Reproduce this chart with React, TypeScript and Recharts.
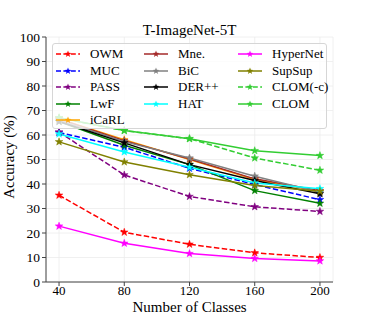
import { LineChart, Line, XAxis, YAxis, CartesianGrid } from 'recharts';

document.body.style.margin = '0';

const classes = [40, 80, 120, 160, 200];

const owm = [35.4, 20.3, 15.4, 11.9, 10.0];
const muc = [61.0, 55.0, 46.4, 39.8, 33.6];
const pass = [61.2, 43.7, 34.9, 30.7, 28.8];
const lwf = [65.5, 55.8, 47.9, 37.3, 32.1];
const icarl = [66.5, 58.1, 50.0, 41.8, 36.9];
const mne = [66.5, 57.7, 50.2, 42.1, 37.3];
const bic = [66.0, 57.3, 50.6, 43.2, 36.6];
const derpp = [65.5, 56.8, 47.9, 41.4, 36.0];
const hat = [60.4, 53.1, 46.8, 40.4, 38.1];
const hypernet = [22.8, 15.8, 11.6, 9.6, 8.6];
const supsup = [57.2, 49.0, 43.8, 39.4, 37.0];
const clomNoC = [67.0, 61.8, 58.5, 50.6, 45.6];
const clom = [67.0, 61.8, 58.5, 53.6, 51.6];

const series = [
  { key: 'owm', name: 'OWM', values: owm, color: '#ff0000', dashed: true },
  { key: 'muc', name: 'MUC', values: muc, color: '#0000ff', dashed: true },
  { key: 'pass', name: 'PASS', values: pass, color: '#800080', dashed: true },
  { key: 'lwf', name: 'LwF', values: lwf, color: '#008000', dashed: false },
  { key: 'icarl', name: 'iCaRL', values: icarl, color: '#ffa500', dashed: false },
  { key: 'mne', name: 'Mne.', values: mne, color: '#a52a2a', dashed: false },
  { key: 'bic', name: 'BiC', values: bic, color: '#808080', dashed: false },
  { key: 'derpp', name: 'DER++', values: derpp, color: '#000000', dashed: false },
  { key: 'hat', name: 'HAT', values: hat, color: '#00ffff', dashed: false },
  { key: 'hypernet', name: 'HyperNet', values: hypernet, color: '#ff00ff', dashed: false },
  { key: 'supsup', name: 'SupSup', values: supsup, color: '#808000', dashed: false },
  { key: 'clomc', name: 'CLOM(-c)', values: clomNoC, color: '#32cd32', dashed: true },
  { key: 'clom', name: 'CLOM', values: clom, color: '#32cd32', dashed: false },
];

const data = classes.map((c, i) => {
  const row: Record<string, number> = { classes: c };
  series.forEach((s) => {
    row[s.key] = s.values[i];
  });
  return row;
});

const FONT = "'Liberation Serif', 'Times New Roman', Times, serif";

function starPath(cx: number, cy: number, r: number) {
  const pts: string[] = [];
  for (let i = 0; i < 10; i++) {
    const rad = i % 2 === 0 ? r : r * 0.4;
    const a = -Math.PI / 2 + (i * Math.PI) / 5;
    pts.push(`${(cx + rad * Math.cos(a)).toFixed(2)},${(cy + rad * Math.sin(a)).toFixed(2)}`);
  }
  return `M${pts.join('L')}Z`;
}

const StarDot = (color: string) => (props: any) => {
  const { cx, cy, index } = props;
  if (cx == null || cy == null) return <g key={index} />;
  return <path key={index} d={starPath(cx, cy, 4)} fill={color} stroke={color} strokeWidth={0.5} />;
};

function LegendItem({ s }: { s: (typeof series)[number] }) {
  return (
    <div style={{ display: 'flex', alignItems: 'center', height: 16.5, whiteSpace: 'nowrap' }}>
      <svg width={26} height={10} style={{ marginRight: 9, flexShrink: 0 }}>
        <line
          x1={1}
          y1={5}
          x2={25}
          y2={5}
          stroke={s.color}
          strokeWidth={1.5}
          strokeDasharray={s.dashed ? '5 2.4' : undefined}
        />
        <path d={starPath(13, 5, 3.6)} fill={s.color} />
      </svg>
      <span>{s.name}</span>
    </div>
  );
}

export default function App() {
  const cols = [series.slice(0, 5), series.slice(5, 9), series.slice(9)];
  const colWidths = [88, 94, 88];
  return (
    <div style={{ position: 'relative', width: 371, height: 318, background: '#fff' }}>
      <LineChart width={371} height={318} data={data} margin={{ top: 37, right: 38, left: 0, bottom: 0 }}>
        <CartesianGrid stroke="#ececec" strokeWidth={0.8} />
        <XAxis
          dataKey="classes"
          type="number"
          domain={[32, 208]}
          ticks={classes}
          height={36}
          stroke="#444"
          tickSize={4}
          tickMargin={0}
          tick={{ fill: '#000', fontSize: 13, fontFamily: FONT }}
        />
        <XAxis xAxisId="top" orientation="top" dataKey="classes" type="number" domain={[32, 208]} height={0} tick={false} tickLine={false} stroke="#444" />
        <YAxis
          type="number"
          domain={[0, 100]}
          ticks={[0, 10, 20, 30, 40, 50, 60, 70, 80, 90, 100]}
          width={46}
          stroke="#444"
          tickSize={4}
          interval={0}
          tick={{ fill: '#000', fontSize: 13.5, fontFamily: FONT }}
        />
        <YAxis yAxisId="right" orientation="right" domain={[0, 100]} width={0} tick={false} tickLine={false} stroke="#444" />
        {series.map((s) => (
          <Line
            key={s.key}
            dataKey={s.key}
            name={s.name}
            stroke={s.color}
            strokeWidth={1.5}
            strokeDasharray={s.dashed ? '5.5 2.4' : undefined}
            dot={StarDot(s.color)}
            activeDot={false}
            isAnimationActive={false}
          />
        ))}
        <text x={189.6} y={35} textAnchor="middle" fontSize={15} fontFamily={FONT} fill="#000">
          T-ImageNet-5T
        </text>
        <text x={189.6} y={312} textAnchor="middle" fontSize={15} fontFamily={FONT} fill="#000">
          Number of Classes
        </text>
        <text
          x={9}
          y={157}
          textAnchor="middle"
          dominantBaseline="central"
          transform="rotate(-90, 9, 157)"
          fontSize={15}
          fontFamily={FONT}
          fill="#000"
        >
          Accuracy (%)
        </text>
      </LineChart>
      <div
        style={{
          position: 'absolute',
          left: 52,
          top: 43,
          width: 275,
          height: 86,
          boxSizing: 'border-box',
          background: 'rgba(255,255,255,0.8)',
          border: '1px solid #d6d6d6',
          borderRadius: 3,
          display: 'flex',
          padding: '2px 0 0 2px',
          fontFamily: FONT,
          fontSize: 13,
          color: '#000',
        }}
      >
        {cols.map((col, ci) => (
          <div key={ci} style={{ width: colWidths[ci] }}>
            {col.map((s) => (
              <LegendItem key={s.key} s={s} />
            ))}
          </div>
        ))}
      </div>
    </div>
  );
}
